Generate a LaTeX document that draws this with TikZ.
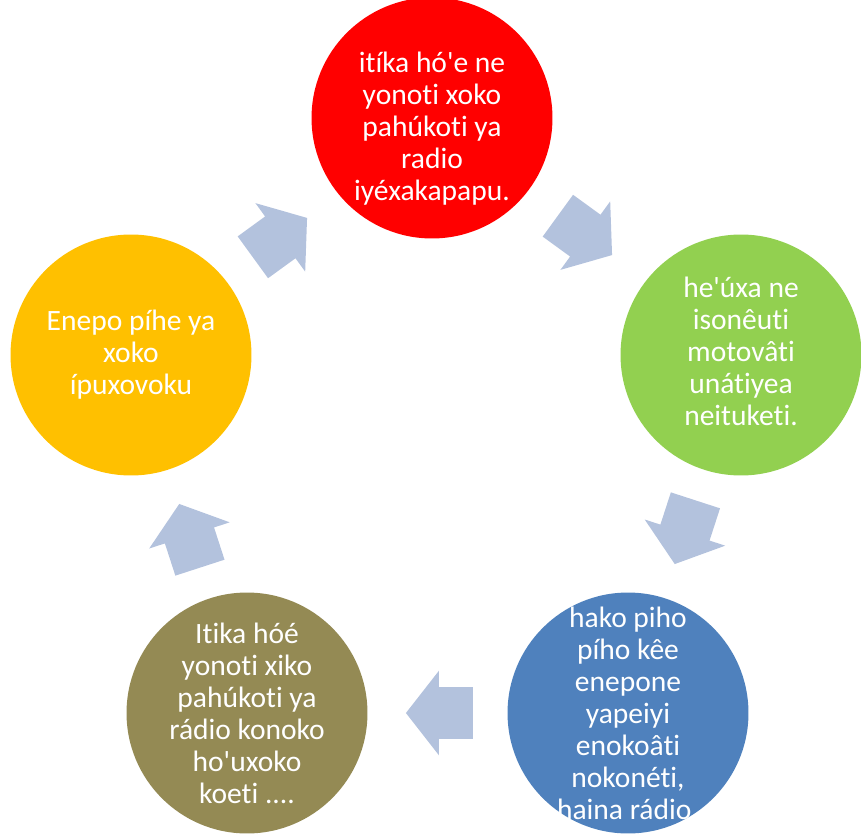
\documentclass[tikz,border=0pt]{standalone}
\usepackage{fontspec}
\setmainfont{Carlito}[Ligatures=NoCommon]
\usetikzlibrary{shapes.arrows,calc}
\definecolor{cRed}{HTML}{FF0000}
\definecolor{cGreen}{HTML}{92D050}
\definecolor{cBlue}{HTML}{4F81BD}
\definecolor{cOlive}{HTML}{948A54}
\definecolor{cYellow}{HTML}{FFC000}
\definecolor{cArrow}{HTML}{B3C2DD}

\begin{document}
\begin{tikzpicture}[x=0.02cm, y=-0.02cm,
    bubble/.style={circle, minimum size=4.82cm, inner sep=0pt},
    bubtext/.style={text=white, align=center, inner sep=0pt,
      font=\fontsize{16.8}{18.2}\selectfont},
    cyclearrow/.style={single arrow, fill=cArrow, inner xsep=0pt, inner ysep=0.51cm,
      minimum height=1.34cm, single arrow head extend=0.33cm,
      single arrow tip angle=104}]
    \useasboundingbox (0,0) rectangle (861,834);
    \node[bubble, fill=cRed]    (red)    at (432,118) {};
    \node[bubble, fill=cGreen]  (green)  at (741,355) {};
    \node[bubble, fill=cBlue]   (blue)   at (628,713) {};
    \node[bubble, fill=cOlive]  (olive)  at (247,713) {};
    \node[bubble, fill=cYellow] (yellow) at (131,355) {};
    \node[bubtext, yshift=-0.22cm] (redtext) at (red)
      {itíka hó\textquotesingle e ne\\yonoti xoko\\pahúkoti ya\\radio\\iyéxakapapu.};
    \node[bubtext, yshift=0.08cm] (greentext) at (green)
      {he\textquotesingle úxa ne\\isonêuti\\motovâti\\unátiyea\\neituketi.};
    \node[bubtext] (bluetext) at (blue)
      {hako piho\\pího kêe\\enepone\\yapeiyi\\enokoâti\\nokonéti,\\haina rádio.};
    \node[bubtext] (olivetext) at (olive)
      {Itika hóé\\yonoti xiko\\pahúkoti ya\\rádio konoko\\ho\textquotesingle uxoko\\koeti ....};
    \node[bubtext] (yellowtext) at (yellow)
      {Enepo píhe ya\\xoko\\ípuxovoku};
    \foreach \a/\b/\r in {red/green/-36, green/blue/-108, blue/olive/180,
                         olive/yellow/108, yellow/red/36}
      \node[cyclearrow, rotate=\r, xshift=-0.24cm] (arr-\a) at ($(\a)!0.5!(\b)$) {};
  \end{tikzpicture}
\end{document}
